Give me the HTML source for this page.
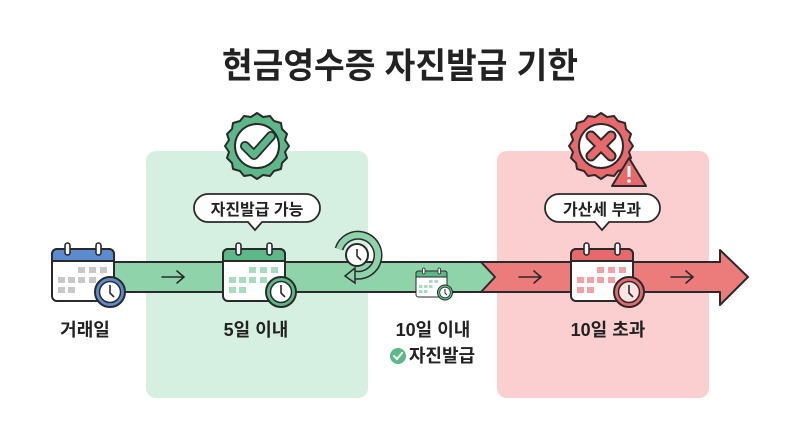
<!DOCTYPE html>
<html><head><meta charset="utf-8"><style>
html,body{margin:0;padding:0;background:#fff;}
svg{display:block;font-family:"Liberation Sans","Noto Sans CJK KR",sans-serif;}
</style></head><body>
<svg width="800" height="446" viewBox="0 0 800 446" xmlns="http://www.w3.org/2000/svg">
<rect width="800" height="446" fill="#fff"/>
<text x="400" y="78" text-anchor="middle" font-size="35" font-weight="700" fill="#222" textLength="356" lengthAdjust="spacingAndGlyphs">현금영수증 자진발급 기한</text>
<!-- panels -->
<rect x="146" y="151" width="222" height="247" rx="10" fill="#d5efe0"/>
<rect x="497" y="151" width="212" height="247" rx="10" fill="#fbcfcf"/>
<!-- red band + arrow -->
<path d="M470 262 H720 V250 L748 277 L720 305 V292 H470 Z" fill="#ec7c7c" stroke="#2a2a2a" stroke-width="2" stroke-linejoin="round"/>
<!-- green band -->
<path d="M85 262 H481 L495 277 L481 292 H85 Z" fill="#8fd3ab" stroke="#2a2a2a" stroke-width="2" stroke-linejoin="round"/>
<!-- small arrows -->
<g stroke="#2a2a2a" stroke-width="1.6" fill="none" stroke-linecap="round">
<path d="M162 277 H184 M177 271 L184 277 L177 283"/>
<path d="M519 277 H541 M534 271 L541 277 L534 283"/>
<path d="M671 277 H693 M686 271 L693 277 L686 283"/>
</g>
<defs>
<g id="cal">
<rect x="0" y="6" width="62" height="52" rx="5" fill="#fff" stroke="#2a2a2a" stroke-width="2"/>
<path d="M0 18 V11 a5 5 0 0 1 5 -5 H57 a5 5 0 0 1 5 5 V18 Z" stroke="#2a2a2a" stroke-width="2"/>
<rect x="13" y="0" width="5" height="12" rx="2.5" fill="#fff" stroke="#2a2a2a" stroke-width="1.6"/>
<rect x="44" y="0" width="5" height="12" rx="2.5" fill="#fff" stroke="#2a2a2a" stroke-width="1.6"/>
</g>
</defs>
<!-- left calendar blue -->
<g transform="translate(52,243)">
<use href="#cal" fill="#5b8ccf"/>
<g fill="#c8c8c8"><rect x="26" y="24" width="7" height="6"/><rect x="37" y="24" width="7" height="6"/><rect x="48" y="24" width="7" height="6"/><rect x="6" y="34" width="7" height="6"/><rect x="16" y="34" width="7" height="6"/><rect x="26" y="34" width="7" height="6"/><rect x="37" y="34" width="7" height="6"/><rect x="6" y="44" width="7" height="6"/><rect x="16" y="44" width="7" height="6"/></g>
<circle cx="58" cy="49" r="15" fill="#5b8ccf" stroke="#2a2a2a" stroke-width="2"/><circle cx="58" cy="49" r="10.5" fill="#fff" stroke="#2a2a2a" stroke-width="1.5"/>
<path d="M58 42 V50 L62 54" stroke="#2a2a2a" stroke-width="1.6" fill="none"/>
</g>
<!-- middle calendar green -->
<g transform="translate(223,243)">
<use href="#cal" fill="#5cb888"/>
<g fill="#a8dcc0"><rect x="26" y="24" width="7" height="6"/><rect x="37" y="24" width="7" height="6"/><rect x="48" y="24" width="7" height="6"/><rect x="6" y="34" width="7" height="6"/><rect x="16" y="34" width="7" height="6"/><rect x="26" y="34" width="7" height="6"/><rect x="37" y="34" width="7" height="6"/><rect x="6" y="44" width="7" height="6"/><rect x="16" y="44" width="7" height="6"/></g>
<circle cx="58" cy="49" r="15" fill="#5cb888" stroke="#2a2a2a" stroke-width="2"/><circle cx="58" cy="49" r="10.5" fill="#fff" stroke="#2a2a2a" stroke-width="1.5"/>
<path d="M58 42 V50 L62 54" stroke="#2a2a2a" stroke-width="1.6" fill="none"/>
</g>
<!-- red calendar -->
<g transform="translate(571,243)">
<use href="#cal" fill="#e8696b"/>
<g fill="#f3a0a6"><rect x="26" y="24" width="7" height="6"/><rect x="37" y="24" width="7" height="6"/><rect x="48" y="24" width="7" height="6"/><rect x="6" y="34" width="7" height="6"/><rect x="16" y="34" width="7" height="6"/><rect x="26" y="34" width="7" height="6"/><rect x="37" y="34" width="7" height="6"/><rect x="6" y="44" width="7" height="6"/><rect x="16" y="44" width="7" height="6"/></g>
<circle cx="58" cy="49" r="15" fill="#e8696b" stroke="#2a2a2a" stroke-width="2"/><circle cx="58" cy="49" r="10.5" fill="#fde3e3" stroke="#2a2a2a" stroke-width="1.5"/>
<path d="M58 42 V50 L62 54" stroke="#2a2a2a" stroke-width="1.6" fill="none"/>
</g>
<!-- small calendar -->
<g transform="translate(416,268) scale(0.5)">
<use href="#cal" fill="#5cb888"/>
<g fill="#a8dcc0"><rect x="26" y="24" width="7" height="6"/><rect x="37" y="24" width="7" height="6"/><rect x="6" y="34" width="7" height="6"/><rect x="16" y="34" width="7" height="6"/><rect x="26" y="34" width="7" height="6"/><rect x="6" y="44" width="7" height="6"/><rect x="16" y="44" width="7" height="6"/></g>
<circle cx="58" cy="49" r="15" fill="#5cb888" stroke="#2a2a2a" stroke-width="2"/><circle cx="58" cy="49" r="10.5" fill="#fff" stroke="#2a2a2a" stroke-width="1.5"/>
<path d="M58 42 V50 L62 54" stroke="#2a2a2a" stroke-width="2" fill="none"/>
</g>
<!-- refresh clock icon -->
<g transform="translate(357,255)">
<path d="M-18 -6 A20 20 0 1 1 -2 20" fill="none" stroke="#2a2a2a" stroke-width="9" stroke-linecap="butt"/>
<path d="M-18 -6 A20 20 0 1 1 -2 20" fill="none" stroke="#8fd3ab" stroke-width="6"/>
<path d="M-2 13 L-12 21 L-2 28 Z" fill="#8fd3ab" stroke="#2a2a2a" stroke-width="1.5"/>
<circle cx="0" cy="0" r="11" fill="#fff" stroke="#2a2a2a" stroke-width="2"/>
<path d="M0 -6 V1 L4 5" stroke="#2a2a2a" stroke-width="1.6" fill="none"/>
</g>
<!-- green badge -->
<g transform="translate(257,146)">
<path d="M0,-33 L6,-29 13,-30 17,-25 24,-23 25,-17 30,-12 28,-6 32,0 28,6 30,12 25,17 24,23 17,25 13,30 6,29 0,33 -6,29 -13,30 -17,25 -24,23 -25,17 -30,12 -28,6 -32,0 -28,-6 -30,-12 -25,-17 -24,-23 -17,-25 -13,-30 -6,-29 Z" fill="#5cb888" stroke="#2a2a2a" stroke-width="2" stroke-linejoin="round"/>
<circle r="22" fill="#fff" stroke="#2a2a2a" stroke-width="2"/>
<path d="M-12 0 L-3 9 L14 -10" fill="none" stroke="#2a2a2a" stroke-width="10" stroke-linecap="round" stroke-linejoin="round"/>
<path d="M-12 0 L-3 9 L14 -10" fill="none" stroke="#5cb888" stroke-width="6.5" stroke-linecap="round" stroke-linejoin="round"/>
</g>
<!-- red badge -->
<g transform="translate(601,146)">
<path d="M0,-33 L6,-29 13,-30 17,-25 24,-23 25,-17 30,-12 28,-6 32,0 28,6 30,12 25,17 24,23 17,25 13,30 6,29 0,33 -6,29 -13,30 -17,25 -24,23 -25,17 -30,12 -28,6 -32,0 -28,-6 -30,-12 -25,-17 -24,-23 -17,-25 -13,-30 -6,-29 Z" fill="#e8696b" stroke="#2a2a2a" stroke-width="2" stroke-linejoin="round"/>
<circle r="22" fill="#fff" stroke="#2a2a2a" stroke-width="2"/>
<path d="M-10 -10 L10 10 M10 -10 L-10 10" stroke="#2a2a2a" stroke-width="11" stroke-linecap="round"/>
<path d="M-10 -10 L10 10 M10 -10 L-10 10" stroke="#e8696b" stroke-width="7" stroke-linecap="round"/>
<path d="M28 12 L45 40 H11 Z" fill="#e8696b" stroke="#2a2a2a" stroke-width="2" stroke-linejoin="round"/>
<rect x="26.5" y="20" width="3" height="11" fill="#fff"/><circle cx="28" cy="35" r="1.8" fill="#fff"/>
</g>
<!-- callouts -->
<path d="M208 194 H306 a14 14 0 0 1 0 28 H262 L255 230 L248 222 H208 a14 14 0 0 1 0 -28 Z" fill="#fff" stroke="#2a2a2a" stroke-width="1.8"/>
<text x="257" y="215" text-anchor="middle" font-size="16" font-weight="700" fill="#222">자진발급 가능</text>
<path d="M559 194 H646 a14 14 0 0 1 0 28 H609 L602 230 L595 222 H559 a14 14 0 0 1 0 -28 Z" fill="#fff" stroke="#2a2a2a" stroke-width="1.8"/>
<text x="602" y="215" text-anchor="middle" font-size="16" font-weight="700" fill="#222">가산세 부과</text>
<!-- labels -->
<g font-size="18" font-weight="700" fill="#222" text-anchor="middle">
<text x="85" y="336">거래일</text>
<text x="256" y="336">5일 이내</text>
<text x="433" y="336">10일 이내</text>
<text x="608" y="336">10일 초과</text>
<text x="442" y="362">자진발급</text>
</g>
<circle cx="398" cy="356" r="8" fill="#5cb888"/>
<path d="M394 356 L397 359 L402 353" stroke="#fff" stroke-width="2" fill="none" stroke-linecap="round"/>
</svg>
</body></html>
